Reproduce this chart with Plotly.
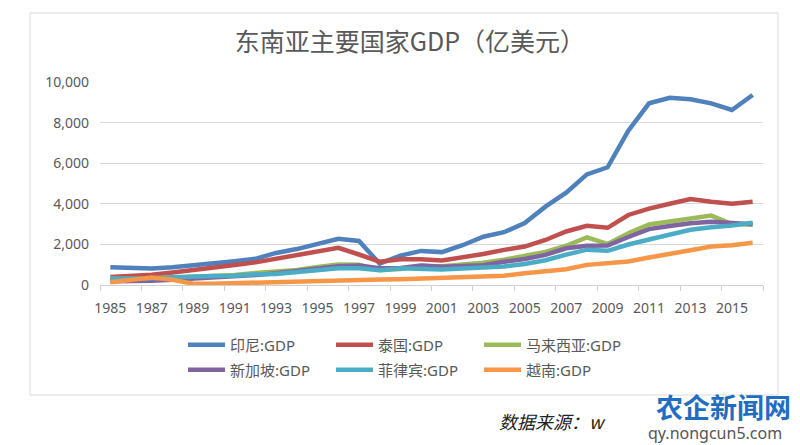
import plotly.graph_objects as go

years = list(range(1985, 2017))
tick_years = list(range(1985, 2016, 2))
tick_labels = [str(y) for y in tick_years]

names = ["印尼:GDP", "泰国:GDP", "马来西亚:GDP", "新加坡:GDP", "菲律宾:GDP", "越南:GDP"]

indonesia = [880, 830, 810, 870, 960, 1060, 1170, 1290, 1580, 1770, 2020, 2280, 2170, 1050, 1450, 1680,
             1620, 1960, 2380, 2600, 3050, 3860, 4550, 5450, 5800, 7600, 8950, 9220, 9150, 8950, 8620, 9360]
thailand = [390, 430, 505, 617, 723, 853, 982, 1115, 1289, 1467, 1693, 1830, 1502, 1150, 1267, 1264,
            1203, 1343, 1523, 1729, 1893, 2218, 2637, 2914, 2817, 3450, 3760, 4000, 4230, 4100, 4000, 4100]
malaysia = [318, 282, 322, 353, 388, 440, 491, 592, 669, 745, 888, 1009, 1000, 722, 791, 938,
            928, 1008, 1102, 1247, 1435, 1627, 1935, 2350, 2023, 2550, 2979, 3144, 3280, 3420, 3000, 2980]
singapore = [186, 187, 210, 254, 304, 361, 433, 497, 584, 707, 843, 925, 959, 824, 839, 958,
             893, 925, 976, 1150, 1278, 1486, 1809, 1936, 1942, 2364, 2754, 2907, 3045, 3115, 3041, 2990]
philippines = [307, 299, 332, 379, 426, 443, 454, 530, 544, 641, 741, 828, 823, 722, 830, 810,
               763, 814, 839, 914, 1031, 1222, 1494, 1742, 1685, 1996, 2241, 2501, 2718, 2846, 2928, 3070]
vietnam = [141, 263, 367, 254, 63, 65, 96, 99, 132, 163, 207, 247, 268, 272, 287, 312,
           327, 351, 396, 454, 576, 664, 774, 991, 1060, 1159, 1355, 1558, 1712, 1900, 1960, 2080]

series = [indonesia, thailand, malaysia, singapore, philippines, vietnam]
colors = ["#4F81BD", "#C0504D", "#9BBB59", "#8064A2", "#4BACC6", "#F79646"]

# plot area in pixels
L, R, T, B = 100, 763, 82, 285
W, H = 800, 445
def px2x(px):
    return (px - L) / (R - L)
def px2y(py):
    return (B - py) / (B - T)

fig = go.Figure()
for i, (nm, vals, col) in enumerate(zip(names, series, colors)):
    fig.add_trace(go.Scatter(
        x=years, y=vals, name=nm, mode="lines",
        line=dict(color=col, width=4.5),
        legend="legend" if i < 3 else "legend2",
    ))

grey = "#595959"
font_main = "Noto Sans, Noto Sans CJK SC, sans-serif"

leg_common = dict(orientation="h", entrywidth=96, entrywidthmode="pixels",
                  font=dict(size=15, color=grey, family=font_main),
                  bgcolor="rgba(0,0,0,0)", xanchor="left", yanchor="middle",
                  itemwidth=37, tracegroupgap=0)

fig.update_layout(
    width=W, height=H,
    margin=dict(l=L, r=W - R, t=T, b=H - B),
    paper_bgcolor="white", plot_bgcolor="white",
    font=dict(family=font_main, color=grey),
    title=dict(text="东南亚主要国家GDP（亿美元）", x=0.5 + 10 / W, xanchor="center",
               y=1 - 42 / H, yanchor="middle", yref="container",
               font=dict(size=25, color=grey, family="Noto Sans CJK SC, sans-serif")),
    xaxis=dict(range=[1984.5, 2016.5], tickmode="array", tickvals=tick_years, ticktext=tick_labels,
               showgrid=False, zeroline=False, showline=True, linecolor="#D0D0D0", linewidth=1,
               ticks="", tickfont=dict(size=14, color=grey), ticklabelstandoff=10,
               minor=dict(tickmode="array", tickvals=[1984.5 + 2 * k for k in range(17)],
                          ticks="outside", ticklen=5, tickcolor="#D0D0D0", tickwidth=1, showgrid=False)),
    yaxis=dict(range=[0, 10000], tickmode="linear", tick0=0, dtick=2000, tickformat=",",
               showgrid=True, gridcolor="#D9D9D9", gridwidth=1, zeroline=False, showline=False,
               ticks="", tickfont=dict(size=14, color=grey), ticklabelstandoff=10),
    legend=dict(x=px2x(183), y=px2y(345), **leg_common),
    legend2=dict(x=px2x(183), y=px2y(370), **leg_common),
    showlegend=True,
    shapes=[dict(type="rect", xref="paper", yref="paper",
                 x0=px2x(30), x1=px2x(778), y0=px2y(395), y1=px2y(13),
                 line=dict(color="#D9D9D9", width=1), fillcolor="rgba(0,0,0,0)", layer="below")],
    annotations=[
        dict(text="<i>数据来源：w</i>", xref="paper", yref="paper", x=px2x(497), y=px2y(421),
             xanchor="left", yanchor="middle", showarrow=False,
             font=dict(size=18, color="#222222", family="Noto Sans CJK SC, sans-serif")),
        dict(text="<b>农企新闻网</b>", xref="paper", yref="paper", x=px2x(654), y=px2y(406),
             xanchor="left", yanchor="middle", showarrow=False,
             font=dict(size=27, color="#1F6EC2", family="Noto Sans CJK SC, sans-serif")),
        dict(text="qy.nongcun5.com", xref="paper", yref="paper", x=px2x(646), y=px2y(433),
             xanchor="left", yanchor="middle", showarrow=False,
             font=dict(size=16, color="#555555", family="Noto Sans, sans-serif")),
    ],
)

fig.write_html("out.html", config={"displayModeBar": False},
               post_script="document.body.style.margin='0';document.body.style.overflow='hidden';")
